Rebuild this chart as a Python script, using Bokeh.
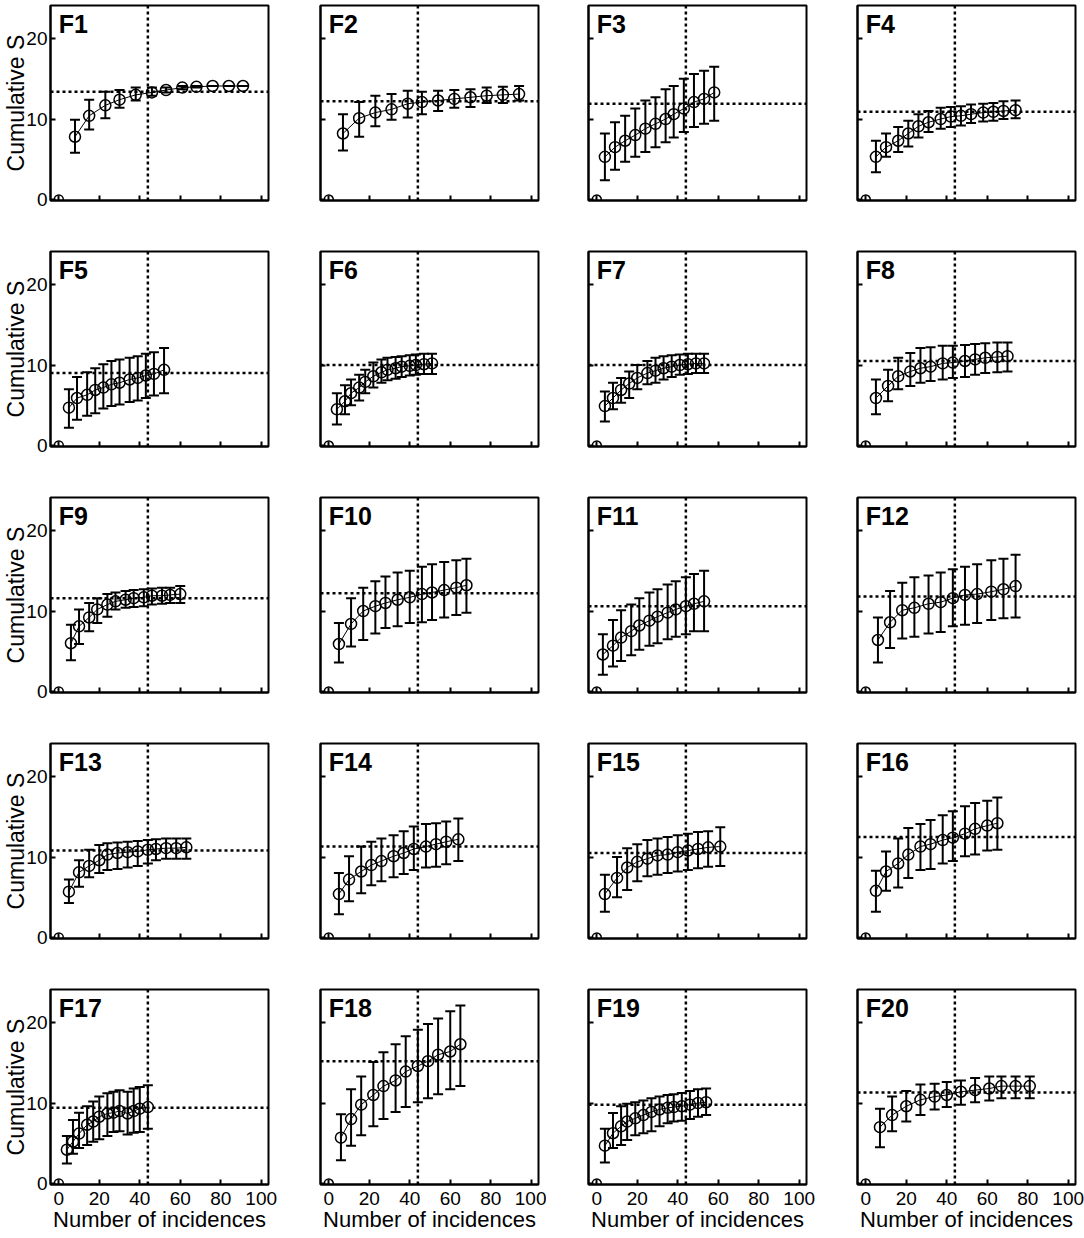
from bokeh.plotting import figure
from bokeh.layouts import gridplot
from bokeh.models import (ColumnDataSource, Whisker, TeeHead, Span, Label,
                          FixedTicker, Range1d)
from bokeh.embed import file_html
from bokeh.resources import INLINE

# ---------------- data ----------------
F1_x = [8, 15, 23, 30, 38, 46, 53, 61, 68, 76, 84, 91]
F1_y = [7.8, 10.4, 11.7, 12.4, 13.0, 13.3, 13.6, 13.9, 14.0, 14.1, 14.1, 14.1]
F1_hi = [9.9, 12.4, 13.4, 13.6, 13.9, 13.9, 13.9, 14.1, 14.1, 14.1, 14.1, 14.1]
F1_lo = [5.8, 8.7, 10.1, 11.4, 12.3, 12.9, 13.3, 13.7, 13.9, 14.1, 14.1, 14.1]

F2_x = [7, 15, 23, 31, 39, 46, 54, 62, 70, 78, 86, 94]
F2_y = [8.2, 10.1, 10.8, 11.2, 11.9, 12.1, 12.3, 12.5, 12.7, 12.9, 13.0, 13.1]
F2_hi = [10.6, 12.1, 12.9, 13.1, 13.5, 13.4, 13.5, 13.6, 13.7, 13.9, 14.0, 14.1]
F2_lo = [6.1, 7.8, 9.1, 9.9, 10.2, 10.6, 11.0, 11.4, 11.5, 12.0, 12.0, 12.3]

F3_x = [4, 9, 14, 19, 24, 29, 34, 38, 43, 48, 53, 58]
F3_y = [5.3, 6.5, 7.3, 8.0, 8.8, 9.4, 10.0, 10.6, 11.3, 12.1, 12.5, 13.3]
F3_hi = [8.2, 9.6, 10.4, 11.3, 12.3, 12.7, 13.7, 14.1, 15.0, 15.6, 16.0, 16.5]
F3_lo = [2.4, 3.7, 4.7, 5.3, 5.9, 6.5, 7.1, 7.7, 8.4, 9.0, 9.4, 9.8]

F4_x = [5, 10, 16, 21, 26, 31, 37, 42, 47, 52, 58, 63, 68, 74]
F4_y = [5.3, 6.5, 7.3, 8.2, 9.1, 9.6, 10.0, 10.3, 10.4, 10.6, 10.8, 10.9, 11.0, 11.1]
F4_hi = [7.3, 8.2, 9.0, 9.8, 10.6, 11.0, 11.4, 11.5, 11.6, 11.8, 11.9, 12.0, 12.2, 12.3]
F4_lo = [3.4, 5.3, 5.9, 6.6, 7.7, 8.4, 8.8, 9.0, 9.2, 9.5, 9.7, 9.8, 10.0, 10.1]

F5_x = [5, 9, 14, 18, 22, 26, 30, 35, 39, 43, 47, 52]
F5_y = [4.7, 5.9, 6.3, 6.9, 7.2, 7.6, 7.8, 8.2, 8.4, 8.7, 8.9, 9.4]
F5_hi = [7.0, 8.5, 9.1, 9.6, 10.1, 10.5, 10.7, 10.9, 11.1, 11.4, 11.6, 12.1]
F5_lo = [2.2, 3.2, 3.7, 4.0, 4.6, 4.9, 5.1, 5.4, 5.6, 5.9, 6.2, 6.5]

F6_x = [4, 8, 11, 15, 18, 22, 26, 29, 33, 36, 40, 43, 47, 51]
F6_y = [4.5, 5.5, 6.5, 7.2, 7.9, 8.6, 9.1, 9.4, 9.6, 9.8, 9.9, 10.0, 10.1, 10.2]
F6_hi = [6.5, 7.5, 8.2, 8.8, 9.4, 10.3, 10.7, 10.9, 11.0, 11.1, 11.2, 11.3, 11.4, 11.4]
F6_lo = [2.6, 3.9, 5.0, 5.6, 6.5, 7.2, 7.8, 8.1, 8.3, 8.5, 8.7, 8.8, 8.9, 8.9]

F7_x = [4, 8, 12, 16, 20, 25, 29, 33, 37, 41, 45, 49, 53]
F7_y = [4.9, 5.9, 6.9, 7.7, 8.4, 9.0, 9.3, 9.6, 9.8, 10.0, 10.1, 10.2, 10.2]
F7_hi = [6.7, 7.8, 8.4, 9.2, 10.0, 10.5, 10.9, 11.1, 11.2, 11.3, 11.4, 11.4, 11.4]
F7_lo = [3.0, 4.5, 5.3, 5.9, 7.0, 7.6, 7.8, 8.2, 8.5, 8.8, 8.9, 9.0, 9.0]

F8_x = [5, 11, 16, 22, 27, 32, 38, 43, 49, 54, 59, 65, 70]
F8_y = [5.9, 7.4, 8.6, 9.2, 9.6, 9.8, 10.2, 10.3, 10.5, 10.7, 10.9, 11.0, 11.1]
F8_hi = [8.2, 9.4, 10.9, 11.5, 12.1, 12.2, 12.4, 12.4, 12.5, 12.6, 12.7, 12.8, 12.8]
F8_lo = [3.9, 5.5, 7.0, 7.4, 7.8, 8.0, 8.2, 8.4, 8.5, 8.8, 9.0, 9.1, 9.2]

F9_x = [6, 10, 15, 19, 24, 28, 33, 37, 42, 46, 51, 55, 60]
F9_y = [6.0, 8.1, 9.2, 10.2, 10.8, 11.2, 11.4, 11.6, 11.7, 11.9, 11.9, 12.0, 12.1]
F9_hi = [8.3, 10.2, 11.0, 11.6, 12.1, 12.3, 12.5, 12.6, 12.7, 12.8, 12.9, 12.9, 13.1]
F9_lo = [3.9, 5.9, 7.5, 8.5, 9.3, 10.2, 10.4, 10.5, 10.6, 10.8, 10.9, 11.0, 11.0]

F10_x = [5, 11, 17, 23, 28, 34, 40, 46, 51, 57, 63, 68]
F10_y = [5.9, 8.4, 10.0, 10.6, 11.0, 11.4, 11.7, 12.1, 12.3, 12.6, 12.9, 13.2]
F10_hi = [8.5, 11.6, 12.9, 13.7, 14.3, 14.8, 15.0, 15.5, 15.8, 16.1, 16.3, 16.5]
F10_lo = [3.6, 5.6, 6.4, 7.2, 7.9, 8.1, 8.5, 8.6, 8.9, 9.2, 9.5, 9.8]

F11_x = [3, 8, 12, 17, 21, 26, 30, 35, 39, 44, 48, 53]
F11_y = [4.6, 5.7, 6.7, 7.5, 8.2, 8.8, 9.3, 9.8, 10.2, 10.6, 10.9, 11.2]
F11_hi = [7.1, 8.9, 10.1, 10.8, 11.6, 12.3, 12.7, 13.3, 13.7, 14.2, 14.6, 15.0]
F11_lo = [2.1, 3.1, 3.8, 4.5, 5.2, 5.7, 6.0, 6.5, 6.8, 7.1, 7.5, 7.5]

F12_x = [6, 12, 18, 24, 31, 37, 43, 49, 55, 62, 68, 74]
F12_y = [6.4, 8.6, 10.1, 10.4, 10.9, 11.1, 11.6, 12.0, 12.1, 12.4, 12.7, 13.1]
F12_hi = [9.2, 12.5, 13.5, 14.2, 14.4, 14.8, 15.2, 15.5, 15.8, 16.3, 16.5, 17.0]
F12_lo = [3.6, 5.4, 6.6, 6.8, 7.2, 7.4, 8.1, 8.3, 8.5, 8.9, 9.1, 9.2]

F13_x = [5, 10, 15, 20, 24, 29, 34, 39, 44, 48, 53, 58, 63]
F13_y = [5.7, 8.1, 8.9, 9.6, 10.3, 10.5, 10.6, 10.7, 10.9, 11.0, 11.1, 11.1, 11.2]
F13_hi = [7.2, 9.6, 10.9, 11.5, 11.7, 11.8, 11.9, 12.0, 12.1, 12.2, 12.3, 12.3, 12.3]
F13_lo = [4.3, 6.3, 7.5, 8.0, 8.4, 8.5, 8.7, 8.9, 9.2, 9.6, 9.8, 9.8, 9.8]

F14_x = [5, 10, 16, 21, 26, 32, 37, 42, 48, 53, 58, 64]
F14_y = [5.4, 7.2, 8.2, 9.0, 9.5, 10.1, 10.5, 11.0, 11.3, 11.6, 11.9, 12.2]
F14_hi = [8.0, 10.1, 11.3, 11.9, 12.3, 12.7, 13.2, 13.8, 14.1, 14.2, 14.4, 14.8]
F14_lo = [2.9, 4.5, 5.5, 6.5, 7.0, 7.5, 7.9, 8.4, 8.7, 8.8, 9.1, 9.5]

F15_x = [4, 10, 15, 20, 25, 30, 35, 40, 45, 50, 55, 61]
F15_y = [5.4, 7.4, 8.7, 9.4, 9.8, 10.2, 10.3, 10.6, 10.8, 11.0, 11.2, 11.3]
F15_hi = [7.8, 10.0, 11.1, 11.6, 12.1, 12.3, 12.5, 12.7, 12.9, 13.1, 13.2, 13.7]
F15_lo = [3.2, 5.0, 5.9, 7.0, 7.6, 7.8, 8.0, 8.2, 8.4, 8.6, 8.8, 8.9]

F16_x = [5, 10, 16, 21, 27, 32, 38, 43, 49, 54, 60, 65]
F16_y = [5.8, 8.2, 9.2, 10.3, 11.3, 11.6, 12.1, 12.4, 12.9, 13.5, 13.9, 14.2]
F16_hi = [8.3, 10.7, 12.3, 13.6, 14.1, 14.6, 15.2, 15.7, 16.3, 16.7, 17.0, 17.4]
F16_lo = [3.2, 5.8, 6.2, 7.4, 8.4, 8.5, 9.2, 9.5, 10.1, 10.3, 10.8, 10.9]

F17_x = [4, 7, 10, 14, 17, 20, 24, 27, 30, 34, 37, 40, 44]
F17_y = [4.2, 5.2, 6.2, 7.3, 7.7, 8.3, 8.7, 8.8, 9.0, 8.7, 9.0, 9.3, 9.5]
F17_hi = [5.9, 7.9, 8.8, 9.6, 10.2, 10.8, 11.2, 11.4, 11.6, 11.4, 11.8, 12.0, 12.2]
F17_lo = [2.5, 3.7, 4.4, 4.8, 5.2, 5.5, 5.9, 6.4, 6.5, 6.1, 6.3, 6.4, 6.8]

F18_x = [6, 11, 16, 22, 27, 33, 38, 44, 49, 54, 60, 65]
F18_y = [5.7, 8.0, 9.8, 11.0, 12.1, 12.8, 13.9, 14.6, 15.2, 16.0, 16.4, 17.3]
F18_hi = [8.6, 11.7, 13.3, 15.1, 16.3, 17.3, 18.3, 19.1, 19.8, 20.5, 21.4, 22.1]
F18_lo = [2.9, 4.7, 6.0, 7.1, 8.0, 8.9, 9.5, 10.1, 10.6, 11.1, 11.7, 12.1]

F19_x = [4, 8, 12, 15, 19, 23, 27, 31, 35, 38, 42, 46, 50, 54]
F19_y = [4.7, 6.25, 7.1, 7.7, 8.1, 8.5, 8.9, 9.2, 9.4, 9.5, 9.6, 9.8, 10.0, 10.1]
F19_hi = [6.8, 8.75, 9.6, 9.9, 10.1, 10.3, 10.6, 10.8, 11.0, 11.1, 11.25, 11.5, 11.7, 11.8]
F19_lo = [2.6, 4.4, 4.8, 5.4, 6.0, 6.25, 6.5, 7.1, 7.5, 7.7, 7.8, 8.0, 8.3, 8.5]

F20_x = [7, 13, 20, 27, 34, 40, 47, 54, 61, 67, 74, 81]
F20_y = [7.0, 8.5, 9.6, 10.4, 10.8, 11.0, 11.4, 11.6, 11.8, 12.1, 12.1, 12.1]
F20_hi = [9.3, 10.8, 11.5, 12.3, 12.4, 12.6, 12.8, 13.1, 13.3, 13.3, 13.3, 13.3]
F20_lo = [4.5, 6.5, 7.7, 8.5, 9.2, 9.5, 9.8, 10.1, 10.3, 10.6, 10.6, 10.6]

PANEL_NAMES = ["F1", "F2", "F3", "F4", "F5", "F6", "F7", "F8", "F9", "F10",
               "F11", "F12", "F13", "F14", "F15", "F16", "F17", "F18", "F19", "F20"]
H_LINES = [13.4, 12.2, 11.9, 10.9, 9.0, 10.0, 10.0, 10.5, 11.6, 12.2,
           10.6, 11.8, 10.8, 11.3, 10.5, 12.5, 9.4, 15.2, 9.8, 11.3]
V_LINE = 44
ORIGIN_X = [0]
ORIGIN_Y = [0]
X_TICKS = [0, 20, 40, 60, 80, 100]
Y_TICKS = [0, 10, 20]
X_LABEL = "Number of incidences"
Y_LABEL = "Cumulative S"

PANELS = [
    (F1_x, F1_y, F1_lo, F1_hi), (F2_x, F2_y, F2_lo, F2_hi),
    (F3_x, F3_y, F3_lo, F3_hi), (F4_x, F4_y, F4_lo, F4_hi),
    (F5_x, F5_y, F5_lo, F5_hi), (F6_x, F6_y, F6_lo, F6_hi),
    (F7_x, F7_y, F7_lo, F7_hi), (F8_x, F8_y, F8_lo, F8_hi),
    (F9_x, F9_y, F9_lo, F9_hi), (F10_x, F10_y, F10_lo, F10_hi),
    (F11_x, F11_y, F11_lo, F11_hi), (F12_x, F12_y, F12_lo, F12_hi),
    (F13_x, F13_y, F13_lo, F13_hi), (F14_x, F14_y, F14_lo, F14_hi),
    (F15_x, F15_y, F15_lo, F15_hi), (F16_x, F16_y, F16_lo, F16_hi),
    (F17_x, F17_y, F17_lo, F17_hi), (F18_x, F18_y, F18_lo, F18_hi),
    (F19_x, F19_y, F19_lo, F19_hi), (F20_x, F20_y, F20_lo, F20_hi),
]

# ---------------- styling ----------------
FONT = "Liberation Sans"
X0, X1 = -4.1, 103.6
Y0, Y1 = -0.12, 24.1
FRAME_W, FRAME_H = 218, 195
LEFT_BORDERS = [50, 43, 42, 42]
RIGHT_BORDERS = [9, 8, 9, 9]

figs = []
for i, (xs, ys, lo, hi) in enumerate(PANELS):
    r, c = divmod(i, 4)
    is_left = c == 0
    is_bottom = r == 4
    p = figure(frame_width=FRAME_W, frame_height=FRAME_H,
               x_range=Range1d(X0, X1), y_range=Range1d(Y0, Y1),
               output_backend="svg", toolbar_location=None,
               min_border_left=LEFT_BORDERS[c], min_border_right=RIGHT_BORDERS[c],
               min_border_top=5, min_border_bottom=(46 if not is_bottom else 0))
    p.grid.visible = False
    p.outline_line_color = "black"
    p.outline_line_width = 2
    p.background_fill_color = "white"
    p.border_fill_color = "white"

    for ax in (p.xaxis[0], p.yaxis[0]):
        ax.axis_line_width = 2
        ax.axis_line_color = "black"
        ax.major_tick_line_width = 2
        ax.major_tick_line_color = "black"
        ax.major_tick_in = 5
        ax.major_tick_out = 0
        ax.minor_tick_line_color = None
        ax.major_label_text_font = FONT
        ax.major_label_text_font_size = "19px"
        ax.major_label_text_color = "black"
    p.xaxis.ticker = FixedTicker(ticks=X_TICKS)
    p.yaxis.ticker = FixedTicker(ticks=Y_TICKS)
    p.yaxis.major_label_standoff = 3
    p.xaxis.major_label_standoff = 7

    if not is_bottom:
        p.xaxis.major_label_overrides = {t: "" for t in X_TICKS}
    else:
        p.xaxis.axis_label = X_LABEL
        p.xaxis.axis_label_text_font = FONT
        p.xaxis.axis_label_text_font_size = "22px"
        p.xaxis.axis_label_text_font_style = "normal"
        p.xaxis.axis_label_text_color = "black"
        p.xaxis.axis_label_standoff = -1
    if not is_left:
        p.yaxis.major_label_overrides = {t: "" for t in Y_TICKS}
    else:
        p.yaxis.axis_label = Y_LABEL
        p.yaxis.axis_label_text_font = FONT
        p.yaxis.axis_label_text_font_size = "23px"
        p.yaxis.axis_label_text_font_style = "normal"
        p.yaxis.axis_label_text_color = "black"
        p.yaxis.axis_label_standoff = -6

    # reference lines
    p.add_layout(Span(location=V_LINE, dimension="height", line_color="black",
                      line_width=2.5, line_dash="3 3"))
    p.add_layout(Span(location=H_LINES[i], dimension="width", line_color="black",
                      line_width=2.5, line_dash="3 3"))

    src = ColumnDataSource(dict(x=xs, y=ys, lo=lo, hi=hi))
    p.add_layout(Whisker(source=src, base="x", upper="hi", lower="lo",
                         dimension="height", line_width=2, line_color="black",
                         upper_head=TeeHead(size=10, line_width=2, line_color="black"),
                         lower_head=TeeHead(size=10, line_width=2, line_color="black")))
    p.line("x", "y", source=src, line_color="black", line_width=1)
    p.scatter("x", "y", source=src, marker="circle", size=11,
              fill_color=None, line_color="black", line_width=1.5)
    p.scatter(ORIGIN_X, ORIGIN_Y, marker="circle", size=9,
              fill_color=None, line_color="black", line_width=1.5)

    p.add_layout(Label(x=0, y=23.6, text=PANEL_NAMES[i], text_baseline="top",
                       text_align="left", text_font=FONT, text_font_size="25px",
                       text_font_style="bold", text_color="black"))
    figs.append(p)

grid = gridplot(figs, ncols=4, toolbar_location=None)
open("out.html", "w").write(file_html(grid, INLINE))
